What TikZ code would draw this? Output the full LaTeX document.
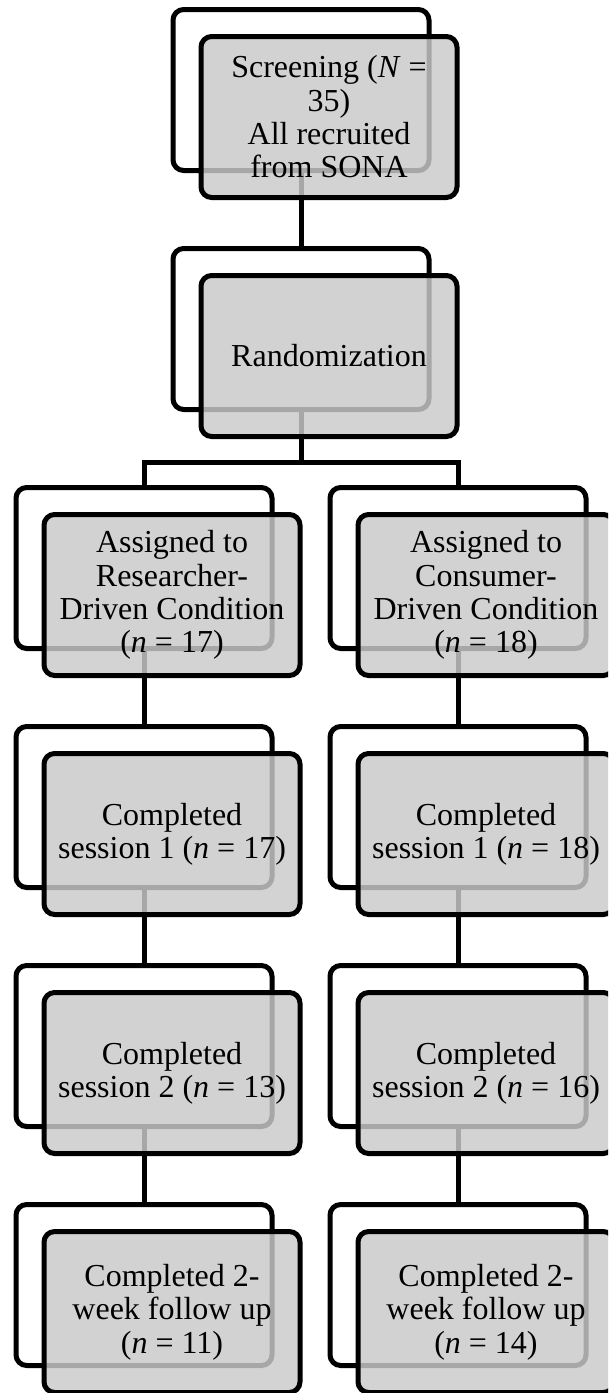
\documentclass[tikz,border=0pt]{standalone}
\usepackage{fontspec}
\setmainfont{Liberation Serif}
\definecolor{frontgray}{RGB}{202,202,202}
\begin{document}
\begin{tikzpicture}[x=0.75pt,y=-0.75pt,
  box/.style={rectangle, rounded corners=8pt, line width=3.75pt, minimum width=192pt, minimum height=120.75pt, inner sep=0pt},
  backbox/.style={box, draw=black, fill=white},
  frontbox/.style={box, draw=black, fill=frontgray, fill opacity=0.83, text opacity=1, align=center, font=\fontsize{24pt}{25pt}\selectfont},
  link/.style={line width=3.75pt, draw=black}]
\clip (0,0) rectangle (608,1393);
% back boxes
\node[backbox] (b1) at (301,90) {};
\node[backbox] (b2) at (301,329) {};
\node[backbox] (b3l) at (144,568) {};
\node[backbox] (b3r) at (458,568) {};
\node[backbox] (b4l) at (144,807) {};
\node[backbox] (b4r) at (458,807) {};
\node[backbox] (b5l) at (144,1046) {};
\node[backbox] (b5r) at (458,1046) {};
\node[backbox] (b6l) at (144,1285) {};
\node[backbox] (b6r) at (458,1285) {};
% connectors
\coordinate (j) at (301,462);
\draw[link] (b1.south) -- (b2.north);
\draw[link] (b2.south) -- (j);
\draw[link] (b3l.north) |- (j) -| (b3r.north);
\draw[link] (b3l.south) -- (b4l.north);
\draw[link] (b3r.south) -- (b4r.north);
\draw[link] (b4l.south) -- (b5l.north);
\draw[link] (b4r.south) -- (b5r.north);
\draw[link] (b5l.south) -- (b6l.north);
\draw[link] (b5r.south) -- (b6r.north);
% front boxes
\node[frontbox] (f1) at (329,117) {Screening (\textit{N} =\\35)\\All recruited\\from SONA};
\node[frontbox] (f2) at (329,356) {Randomization};
\node[frontbox] (f3l) at (172,595) {Assigned to\\Researcher-\\Driven Condition\\(\textit{n} = 17)};
\node[frontbox] (f3r) at (486,595) {Assigned to\\Consumer-\\Driven Condition\\(\textit{n} = 18)};
\node[frontbox] (f4l) at (172,834) {Completed\\session 1 (\textit{n} = 17)};
\node[frontbox] (f4r) at (486,834) {Completed\\session 1 (\textit{n} = 18)};
\node[frontbox] (f5l) at (172,1073) {Completed\\session 2 (\textit{n} = 13)};
\node[frontbox] (f5r) at (486,1073) {Completed\\session 2 (\textit{n} = 16)};
\node[frontbox] (f6l) at (172,1312) {Completed 2-\\week follow up\\(\textit{n} = 11)};
\node[frontbox] (f6r) at (486,1312) {Completed 2-\\week follow up\\(\textit{n} = 14)};
\end{tikzpicture}
\end{document}
